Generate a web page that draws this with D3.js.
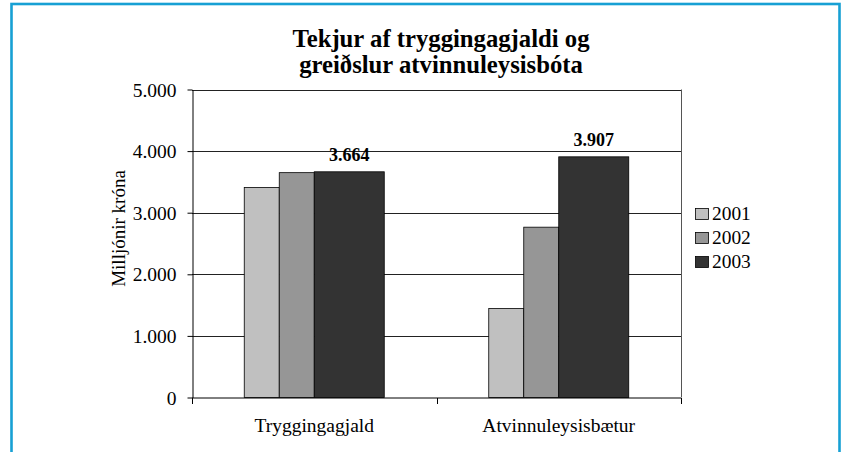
<!DOCTYPE html>
<html lang="is">
<head>
    <meta charset="UTF-8">
    <title>Tekjur af tryggingagjaldi og greiðslur atvinnuleysisbóta</title>
    <script src="https://cdnjs.cloudflare.com/ajax/libs/d3/7.8.5/d3.min.js"></script>
    <style>
        body { margin: 0; background: #fff; }
        svg { display: block; }
        svg text { font-family: "Liberation Serif", "Times New Roman", serif !important; fill: #000; }
    </style>
</head>
<body>
    <div id="chart"></div>

    <script>
        // Data
        const categories = ["Tryggingagjald", "Atvinnuleysisbætur"];
        const years = ["2001", "2002", "2003"];
        const values2001 = [3410, 1445];
        const values2002 = [3650, 2765];
        const values2003 = [3664, 3907];
        const yTicks = [0, 1000, 2000, 3000, 4000, 5000];
        const titleLines = ["Tekjur af tryggingagjaldi og", "greiðslur atvinnuleysisbóta"];
        const yTitle = "Milljónir króna";

        // Layout
        const W = 842, H = 452;
        const plot = { left: 192, right: 681, top: 89.5, bottom: 397.5 };
        const colors = ["#c0c0c0", "#969696", "#333333"];
        const barUnits = [1, 1, 2];     // 2003 bar is drawn twice as wide
        const groupFrac = 0.5726;

        const series = [values2001, values2002, values2003];
        const isl = d3.formatLocale({ decimal: ",", thousands: ".", grouping: [3], currency: ["", " kr."] });
        const fmt = isl.format(",d");

        const svg = d3.select("#chart").append("svg")
            .attr("width", W)
            .attr("height", H);

        svg.append("rect").attr("width", W).attr("height", H).attr("fill", "#fff");

        // blue frame (no bottom edge visible)
        svg.append("rect")
            .attr("x", 11.5).attr("y", 4)
            .attr("width", 828).attr("height", 470)
            .attr("fill", "none")
            .attr("stroke", "#17a0d4")
            .attr("stroke-width", 2.6);

        const x = d3.scaleBand().domain(categories).range([plot.left, plot.right]).padding(0);
        const y = d3.scaleLinear().domain([0, 5000]).range([plot.bottom, plot.top]);

        const groupW = x.bandwidth() * groupFrac;
        const unitW = groupW / d3.sum(barUnits);
        const offsets = barUnits.map((u, i) => d3.sum(barUnits.slice(0, i)) * unitW);

        // gridlines
        svg.append("g")
            .selectAll("line")
            .data(yTicks.filter(d => d > 0))
            .join("line")
            .attr("x1", plot.left).attr("x2", plot.right)
            .attr("y1", d => Math.round(y(d)) + 0.5).attr("y2", d => Math.round(y(d)) + 0.5)
            .attr("stroke", "#222")
            .attr("stroke-width", 1);

        // right border of plot area
        svg.append("line")
            .attr("x1", plot.right + 0.5).attr("x2", plot.right + 0.5)
            .attr("y1", plot.top).attr("y2", plot.bottom)
            .attr("stroke", "#555");

        // bars
        series.forEach((vals, s) => {
            svg.append("g")
                .selectAll("rect")
                .data(categories.map((c, i) => ({ c, v: vals[i] })))
                .join("rect")
                .attr("x", d => x(d.c) + (x.bandwidth() - groupW) / 2 + offsets[s])
                .attr("y", d => y(d.v))
                .attr("width", unitW * barUnits[s])
                .attr("height", d => y(0) - y(d.v))
                .attr("fill", colors[s])
                .attr("stroke", "#000")
                .attr("stroke-width", 0.8);
        });

        // data labels on 2003
        svg.append("g")
            .selectAll("text")
            .data(categories.map((c, i) => ({ c, v: values2003[i] })))
            .join("text")
            .attr("x", d => x(d.c) + (x.bandwidth() - groupW) / 2 + offsets[2] + unitW * barUnits[2] / 2)
            .attr("y", d => y(d.v) - 10.5)
            .attr("text-anchor", "middle")
            .attr("font-size", 18)
            .attr("font-weight", "bold")
            .text(d => fmt(d.v));

        // y axis
        const yAxis = svg.append("g")
            .attr("transform", `translate(${plot.left + 0.5},0)`)
            .call(d3.axisLeft(y).tickValues(yTicks).tickFormat(fmt).tickSize(5).tickSizeOuter(0).tickPadding(11))
            .attr("font-family", null)
            .attr("font-size", null);
        yAxis.select(".domain").attr("stroke", "#000");
        yAxis.selectAll("text")
            .attr("font-size", 19.5)
            .attr("dy", "0.34em");
        yAxis.selectAll(".tick line").attr("stroke", "#000");

        // x axis
        const xAxis = svg.append("g")
            .attr("transform", `translate(0,${plot.bottom + 0.5})`);
        xAxis.append("line")
            .attr("x1", plot.left).attr("x2", plot.right)
            .attr("stroke", "#000");
        xAxis.selectAll(".sep")
            .data([plot.left, ...categories.map(c => x(c) + x.bandwidth())])
            .join("line")
            .attr("class", "sep")
            .attr("x1", d => Math.round(d) + 0.5).attr("x2", d => Math.round(d) + 0.5)
            .attr("y1", 0).attr("y2", 6)
            .attr("stroke", "#000");
        xAxis.selectAll(".cat")
            .data(categories)
            .join("text")
            .attr("class", "cat")
            .attr("x", d => x(d) + x.bandwidth() / 2)
            .attr("y", 34)
            .attr("text-anchor", "middle")
            .attr("font-size", 19.5)
            .text(d => d);

        // y axis title
        svg.append("text")
            .attr("transform", "translate(125,228.5) rotate(-90)")
            .attr("text-anchor", "middle")
            .attr("font-size", 19)
            .text(yTitle);

        // title
        svg.append("g")
            .selectAll("text")
            .data(titleLines)
            .join("text")
            .attr("x", 441)
            .attr("y", (d, i) => 46.5 + i * 26.5)
            .attr("text-anchor", "middle")
            .attr("font-size", 24.7)
            .attr("font-weight", "bold")
            .text(d => d);

        // legend
        const legend = svg.append("g").attr("transform", "translate(695,208)");
        const item = legend.selectAll("g")
            .data(years)
            .join("g")
            .attr("transform", (d, i) => `translate(0,${i * 24})`);
        item.append("rect")
            .attr("x", 0.5).attr("y", 0.5)
            .attr("width", 13).attr("height", 11)
            .attr("fill", (d, i) => colors[i])
            .attr("stroke", "#000")
            .attr("stroke-width", 0.8);
        item.append("text")
            .attr("x", 17)
            .attr("y", 11.5)
            .attr("font-size", 19.4)
            .text(d => d);
    </script>
</body>
</html>
